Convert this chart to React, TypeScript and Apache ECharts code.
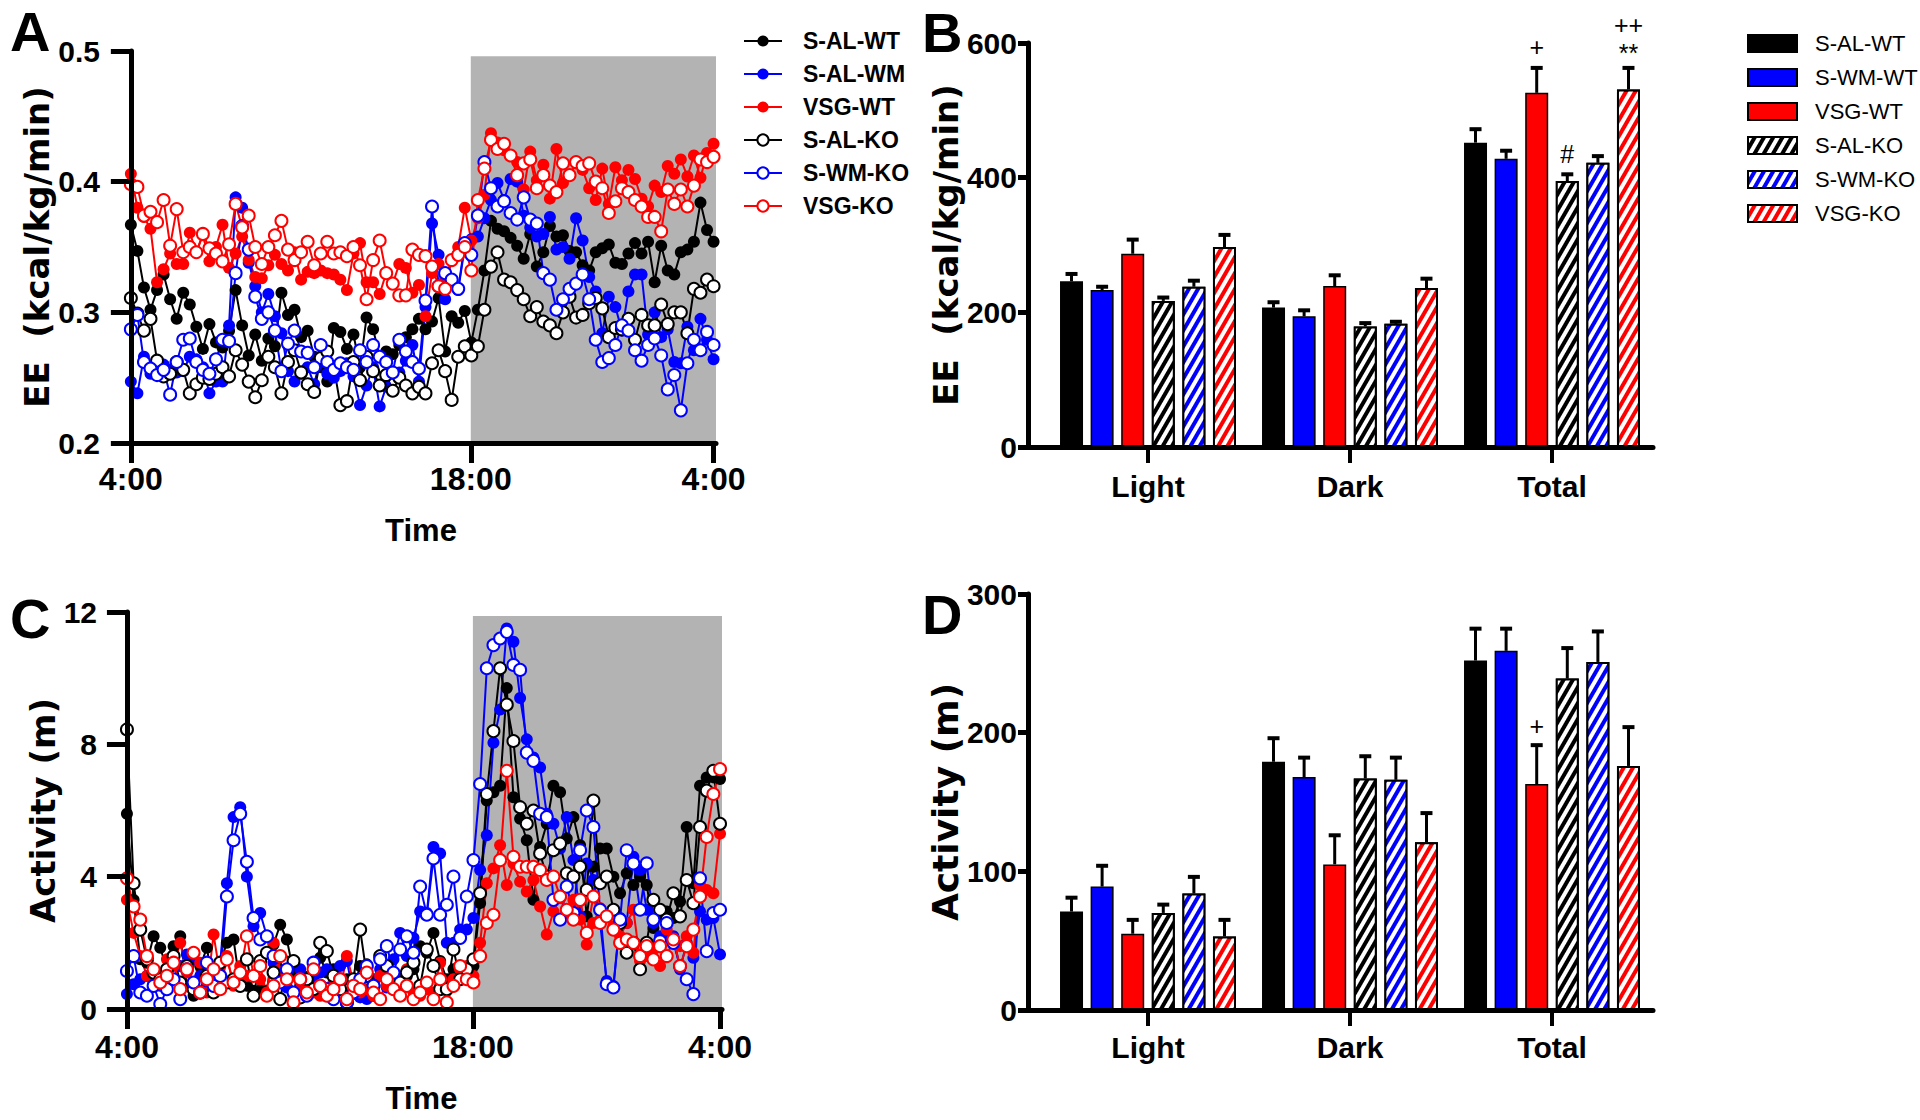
import React, { useEffect, useRef } from "react";
import * as echarts from "echarts";

const ARIAL = "'Liberation Sans', Arial, sans-serif";
const WIDE = "'DejaVu Sans', sans-serif";

const LINE_GROUPS = ["S-AL-WT", "S-AL-WM", "VSG-WT", "S-AL-KO", "S-WM-KO", "VSG-KO"];
const BAR_GROUPS = ["S-AL-WT", "S-WM-WT", "VSG-WT", "S-AL-KO", "S-WM-KO", "VSG-KO"];
const GROUP_COLORS = ["#000000", "#0000ff", "#ff0000", "#000000", "#0000ff", "#ff0000"];
const GROUP_OPEN = [false, false, false, true, true, true];
const PERIODS = ["Light", "Dark", "Total"];
const TIME_TICKS = [0, 14, 24];
const TIME_LABELS = ["4:00", "18:00", "4:00"];
const DARK_START = 14;
const DARK_END = 24.1;

// Panel A: energy expenditure (kcal/kg/min), 90 samples from 4:00 to 4:00
const EE_S_AL_WT = [
  0.367, 0.347, 0.319, 0.302, 0.317, 0.329, 0.31, 0.295, 0.315, 0.306,
  0.289, 0.272, 0.291, 0.277, 0.273, 0.286, 0.317, 0.29, 0.267, 0.283,
  0.263, 0.28, 0.274, 0.315, 0.298, 0.302, 0.281, 0.286, 0.266, 0.258,
  0.247, 0.288, 0.285, 0.272, 0.283, 0.258, 0.296, 0.287, 0.266, 0.27,
  0.268, 0.275, 0.281, 0.287, 0.295, 0.287, 0.293, 0.311, 0.27, 0.297,
  0.292, 0.301, 0.277, 0.302, 0.332, 0.37, 0.364, 0.362, 0.357, 0.351,
  0.341, 0.36, 0.335, 0.346, 0.366, 0.358, 0.359, 0.347, 0.346, 0.336,
  0.332, 0.346, 0.349, 0.352, 0.338, 0.337, 0.345, 0.353, 0.345, 0.354,
  0.323, 0.351, 0.332, 0.329, 0.346, 0.348, 0.354, 0.384, 0.363, 0.354,
];
const EE_S_AL_WM = [
  0.247, 0.238, 0.266, 0.253, 0.26, 0.26, 0.256, 0.254, 0.255, 0.266,
  0.264, 0.258, 0.238, 0.247, 0.247, 0.29, 0.388, 0.38, 0.338, 0.32,
  0.3, 0.314, 0.297, 0.284, 0.255, 0.247, 0.253, 0.258, 0.245, 0.266,
  0.253, 0.25, 0.255, 0.261, 0.251, 0.229, 0.244, 0.258, 0.228, 0.243,
  0.253, 0.254, 0.263, 0.275, 0.247, 0.304, 0.368, 0.344, 0.31, 0.325,
  0.317, 0.35, 0.356, 0.358, 0.372, 0.386, 0.399, 0.386, 0.402, 0.4,
  0.374, 0.365, 0.358, 0.36, 0.373, 0.348, 0.35, 0.341, 0.372, 0.355,
  0.327, 0.316, 0.284, 0.312, 0.304, 0.286, 0.316, 0.329, 0.329, 0.283,
  0.3, 0.281, 0.287, 0.262, 0.261, 0.289, 0.271, 0.295, 0.279, 0.264,
];
const EE_VSG_WT = [
  0.406, 0.38, 0.373, 0.364, 0.323, 0.333, 0.345, 0.337, 0.337, 0.361,
  0.346, 0.359, 0.339, 0.35, 0.367, 0.334, 0.345, 0.358, 0.34, 0.327,
  0.326, 0.336, 0.344, 0.337, 0.332, 0.346, 0.325, 0.331, 0.33, 0.332,
  0.33, 0.329, 0.325, 0.317, 0.345, 0.353, 0.323, 0.323, 0.314, 0.33,
  0.322, 0.337, 0.334, 0.315, 0.321, 0.297, 0.33, 0.337, 0.326, 0.34,
  0.35, 0.38, 0.355, 0.372, 0.39, 0.437, 0.43, 0.424, 0.42, 0.415,
  0.394, 0.423, 0.401, 0.413, 0.387, 0.425, 0.399, 0.405, 0.414, 0.409,
  0.395, 0.386, 0.41, 0.383, 0.411, 0.401, 0.409, 0.402, 0.387, 0.381,
  0.397, 0.392, 0.412, 0.406, 0.417, 0.404, 0.42, 0.403, 0.422, 0.429,
];
const EE_S_AL_KO = [
  0.311, 0.299, 0.286, 0.295, 0.263, 0.251, 0.253, 0.262, 0.256, 0.238,
  0.245, 0.25, 0.249, 0.253, 0.258, 0.251, 0.271, 0.26, 0.247, 0.235,
  0.248, 0.266, 0.258, 0.238, 0.262, 0.271, 0.254, 0.245, 0.239, 0.265,
  0.27, 0.258, 0.229, 0.232, 0.262, 0.248, 0.266, 0.255, 0.244, 0.252,
  0.24, 0.25, 0.244, 0.238, 0.243, 0.238, 0.261, 0.271, 0.255, 0.233,
  0.266, 0.274, 0.267, 0.274, 0.302, 0.335, 0.346, 0.325, 0.323, 0.317,
  0.31, 0.297, 0.304, 0.293, 0.29, 0.284, 0.3, 0.312, 0.296, 0.298,
  0.307, 0.311, 0.303, 0.281, 0.288, 0.287, 0.295, 0.279, 0.298, 0.29,
  0.29, 0.306, 0.291, 0.3, 0.3, 0.284, 0.318, 0.315, 0.325, 0.32,
];
const EE_S_WM_KO = [
  0.287, 0.298, 0.262, 0.257, 0.252, 0.256, 0.237, 0.262, 0.279, 0.28,
  0.262, 0.256, 0.253, 0.264, 0.279, 0.278, 0.33, 0.366, 0.348, 0.312,
  0.295, 0.3, 0.286, 0.255, 0.276, 0.286, 0.27, 0.269, 0.258, 0.275,
  0.262, 0.256, 0.261, 0.258, 0.256, 0.271, 0.262, 0.275, 0.266, 0.262,
  0.254, 0.279, 0.27, 0.262, 0.257, 0.309, 0.381, 0.32, 0.33, 0.325,
  0.318, 0.353, 0.344, 0.374, 0.415, 0.395, 0.381, 0.385, 0.376, 0.371,
  0.388, 0.371, 0.368, 0.33, 0.325, 0.302, 0.31, 0.318, 0.322, 0.329,
  0.31, 0.279, 0.262, 0.265, 0.275, 0.29, 0.286, 0.271, 0.263, 0.275,
  0.28, 0.267, 0.241, 0.252, 0.225, 0.261, 0.279, 0.271, 0.285, 0.275,
];
const EE_VSG_KO = [
  0.398, 0.396, 0.374, 0.377, 0.369, 0.386, 0.351, 0.379, 0.346, 0.35,
  0.346, 0.36, 0.349, 0.345, 0.339, 0.352, 0.383, 0.365, 0.374, 0.35,
  0.337, 0.35, 0.359, 0.37, 0.348, 0.34, 0.346, 0.354, 0.336, 0.345,
  0.354, 0.345, 0.346, 0.343, 0.35, 0.336, 0.31, 0.34, 0.355, 0.33,
  0.322, 0.313, 0.313, 0.348, 0.344, 0.343, 0.335, 0.32, 0.318, 0.34,
  0.344, 0.35, 0.332, 0.386, 0.41, 0.432, 0.425, 0.429, 0.42, 0.405,
  0.414, 0.417, 0.395, 0.405, 0.397, 0.392, 0.414, 0.405, 0.415, 0.412,
  0.414, 0.4, 0.395, 0.376, 0.385, 0.395, 0.392, 0.386, 0.381, 0.373,
  0.373, 0.362, 0.394, 0.383, 0.394, 0.381, 0.397, 0.417, 0.415, 0.419,
];

// Panel C: activity (m), 90 samples from 4:00 to 4:00
const ACT_S_AL_WT = [
  5.9, 3.3, 1.5, 1.4, 2.2, 1.85, 1.2, 1.9, 2.2, 0.7,
  0.4, 1.3, 1.85, 0.6, 1.4, 2.0, 2.1, 0.7, 0.7, 0.55,
  0.55, 0.55, 1.95, 2.55, 2.1, 1.1, 0.7, 0.97, 0.8, 1.55,
  1.1, 1.2, 0.9, 0.9, 0.6, 1.3, 1.35, 0.4, 1.0, 1.2,
  0.9, 0.9, 1.0, 1.2, 1.9, 1.7, 2.3, 1.45, 0.9, 1.2,
  1.2, 1.25, 1.3, 3.2, 6.3, 6.55, 6.75, 9.7, 6.4, 5.75,
  5.1, 3.3, 4.9, 5.6, 6.75, 6.55, 5.15, 5.8, 4.95, 2.8,
  4.3, 4.85, 4.85, 4.0, 3.5, 4.1, 3.75, 4.0, 3.75, 2.45,
  2.9, 2.95, 2.75, 3.25, 5.5, 3.8, 6.75, 7.0, 7.0, 6.95,
];
const ACT_S_AL_WM = [
  0.45, 0.75, 0.9, 1.0, 0.8, 0.7, 1.1, 0.9, 1.3, 1.65,
  1.5, 1.0, 0.6, 1.0, 1.4, 3.8, 5.8, 6.1, 4.0, 2.5,
  2.9, 2.2, 1.4, 0.95, 0.65, 0.4, 1.2, 0.8, 0.9, 1.1,
  1.2, 0.7, 1.3, 1.45, 0.45, 0.35, 0.3, 0.9, 1.2, 0.65,
  1.5, 2.3, 1.6, 2.15, 2.95, 2.9, 4.9, 4.7, 2.0, 2.0,
  2.4, 2.4, 2.75, 4.2, 5.25, 8.05, 9.05, 11.5, 11.1, 9.4,
  8.15, 7.6, 7.3, 5.9, 5.6, 4.85, 5.8, 4.5, 2.8, 4.4,
  3.9, 2.6, 0.85, 0.7, 2.75, 2.6, 4.6, 4.2, 3.0, 2.6,
  2.2, 2.2, 2.2, 1.2, 2.0, 1.55, 2.95, 2.7, 2.75, 1.65,
];
const ACT_VSG_WT = [
  3.3, 2.3, 1.6, 1.0, 1.2, 0.9, 1.5, 1.3, 2.0, 1.1,
  0.8, 1.4, 0.5, 2.25, 1.0, 1.6, 0.7, 1.3, 1.0, 0.4,
  0.9, 0.5, 2.0, 1.2, 1.4, 0.3, 0.6, 0.8, 0.5, 0.4,
  0.5, 0.8, 0.6, 1.6, 0.8, 0.5, 0.6, 0.4, 1.0, 0.7,
  0.6, 0.9, 1.2, 0.5, 0.4, 0.6, 0.5, 1.4, 0.6, 0.9,
  1.2, 1.3, 1.0, 2.0, 3.8, 4.25, 4.95, 3.75, 4.4, 3.85,
  3.55, 3.9, 3.1, 2.25, 2.95, 3.35, 2.85, 3.3, 2.7, 1.95,
  2.6, 3.05, 2.8, 2.5, 2.2, 2.6, 3.0, 1.45, 1.6, 1.8,
  1.3, 2.4, 2.1, 1.9, 2.2, 1.7, 3.75, 3.6, 3.5, 5.3,
];
const ACT_S_AL_KO = [
  8.45, 3.8, 2.4, 1.5, 1.1, 0.9, 1.2, 1.6, 0.8, 1.3,
  0.6, 0.5, 1.0, 0.5, 1.4, 0.8, 0.9, 0.7, 1.5, 0.4,
  1.45, 1.7, 1.1, 0.3, 1.4, 1.45, 0.35, 0.9, 0.6, 2.0,
  1.75, 1.0, 0.6, 0.2, 0.9, 2.4, 1.0, 0.7, 1.6, 1.3,
  0.9, 0.8, 1.1, 1.4, 0.7, 1.8, 1.3, 0.6, 0.6, 1.8,
  0.9, 1.2, 1.5, 3.5, 6.5, 8.4, 10.3, 9.2, 8.1, 6.1,
  5.6, 6.0, 4.7, 4.0, 4.8, 5.0, 4.1, 4.0, 4.3, 3.6,
  6.3, 3.8, 4.0, 3.0, 2.6, 1.7, 2.0, 1.2, 2.0, 3.3,
  3.0, 2.7, 3.5, 2.8, 3.9, 3.2, 5.5, 6.6, 7.2, 5.6,
];
const ACT_S_WM_KO = [
  1.15, 1.6, 0.5, 0.4, 0.7, 0.15, 0.6, 0.9, 0.3, 1.2,
  0.8, 0.5, 1.4, 0.7, 1.0, 3.4, 5.1, 5.9, 4.45, 2.75,
  2.1, 2.2, 1.6, 0.8, 1.2, 0.5, 0.9, 0.4, 1.4, 0.7,
  0.6, 0.3, 0.9, 0.2, 0.5, 0.9, 1.3, 0.7, 1.5, 1.9,
  1.1, 1.8, 2.2, 1.7, 3.7, 2.85, 4.55, 2.85, 3.15, 4.0,
  2.15, 3.4, 4.5, 6.8, 10.3, 11.0, 11.2, 11.4, 10.4, 10.25,
  7.75, 7.5, 5.9, 5.8, 3.3, 2.7, 3.7, 2.9, 4.8, 6.0,
  5.5, 3.0, 0.75, 0.65, 2.7, 4.8, 4.4, 3.0, 4.4, 2.7,
  2.05, 2.6, 2.0, 1.3, 0.9, 0.45, 3.95, 1.75, 2.9, 3.0,
];
const ACT_VSG_KO = [
  3.95, 3.1, 2.7, 1.6, 1.2, 0.8, 1.0, 1.4, 0.6, 1.2,
  1.7, 0.5, 0.9, 1.2, 0.6, 1.5, 0.8, 1.1, 2.2, 1.0,
  1.3, 0.4, 0.7, 1.6, 0.9, 0.2, 0.9, 0.5, 1.2, 0.7,
  0.4, 0.6, 0.9, 0.3, 0.7, 0.6, 1.1, 0.5, 0.3, 0.9,
  0.6, 0.4, 0.7, 0.3, 0.5, 0.8, 0.3, 0.9, 0.2, 0.7,
  1.3, 0.9, 0.8, 1.6, 2.6, 2.85, 4.5, 7.2, 4.6, 4.3,
  4.3, 4.3, 4.2, 3.9, 4.0, 3.4, 3.0, 2.7, 3.3, 2.3,
  3.4, 2.6, 2.8, 2.4, 2.0, 2.1, 2.0, 1.6, 1.9, 1.5,
  1.9, 1.6, 2.1, 1.3, 1.9, 2.4, 3.4, 5.2, 6.5, 7.25,
];

// Panel B: EE (kcal/kg/min) means and SEM per period [Light, Dark, Total]
const EE_BAR_MEAN = [
  [246, 207, 452],
  [233, 194, 428],
  [287, 239, 526],
  [217, 179, 395],
  [238, 183, 422],
  [297, 236, 531],
];
const EE_BAR_SEM = [
  [11, 8, 20],
  [5, 9, 12],
  [21, 16, 37],
  [5, 5, 10],
  [9, 3, 10],
  [18, 14, 32],
];
// Panel D: activity (m)
const ACT_BAR_MEAN = [
  [71, 179, 252],
  [89, 168, 259],
  [55, 105, 163],
  [70, 167, 239],
  [84, 166, 251],
  [53, 121, 176],
];
const ACT_BAR_SEM = [
  [10, 17, 23],
  [15, 14, 16],
  [10, 21, 28],
  [6, 16, 22],
  [12, 16, 22],
  [12, 21, 28],
];
// significance marks: [period index, group index, text, px above error cap]
const EE_MARKS: [number, number, string, number][] = [
  [2, 2, "+", 21],
  [2, 3, "#", 20],
  [2, 5, "**", 15],
  [2, 5, "++", 43],
];
const ACT_MARKS: [number, number, string, number][] = [[2, 2, "+", 19]];

const BAR_WIDTH = 23;
const BAR_GAP = 0.33;
const BAR_PITCH = BAR_WIDTH * (1 + BAR_GAP);

const EE_LINES = [EE_S_AL_WT, EE_S_AL_WM, EE_VSG_WT, EE_S_AL_KO, EE_S_WM_KO, EE_VSG_KO];
const ACT_LINES = [ACT_S_AL_WT, ACT_S_AL_WM, ACT_VSG_WT, ACT_S_AL_KO, ACT_S_WM_KO, ACT_VSG_KO];

const hoursOf = (n: number, i: number) => (i * 24) / (n - 1);

function buildOption() {
  const axisLine = (w: number) => ({ show: true, lineStyle: { color: "#000", width: w } });
  const tickLabel = (size: number) => ({
    fontFamily: ARIAL,
    fontWeight: "bold",
    fontSize: size,
    color: "#000",
  });
  const yName = (size: number) => ({
    fontFamily: WIDE,
    fontWeight: "bold",
    fontSize: size,
    color: "#000",
  });

  const timeXAxis = (grid: number, min: number, max: number, margin: number, nameGap: number) => ({
    type: "value",
    gridIndex: grid,
    min,
    max,
    z: 5,
    axisLine: axisLine(5),
    axisTick: {
      show: true,
      customValues: TIME_TICKS,
      length: 20,
      lineStyle: { color: "#000", width: 5 },
    },
    axisLabel: {
      customValues: TIME_TICKS,
      margin,
      formatter: (v: number) => {
        const k = TIME_TICKS.indexOf(Math.round(v));
        return k >= 0 ? TIME_LABELS[k] : "";
      },
      ...tickLabel(32),
    },
    splitLine: { show: false },
    name: "Time",
    nameLocation: "middle",
    nameGap,
    nameTextStyle: tickLabel(31),
  });

  const catXAxis = (grid: number, margin: number) => ({
    type: "category",
    gridIndex: grid,
    data: PERIODS,
    z: 5,
    axisLine: { show: false },
    axisTick: { show: true, alignWithLabel: true, length: 16, lineStyle: { color: "#000", width: 4 } },
    axisLabel: { margin, ...tickLabel(30) },
    splitLine: { show: false },
  });

  const baseLineX = (grid: number) => ({
    type: "value",
    gridIndex: grid,
    min: 0,
    max: 1,
    z: 5,
    axisLine: axisLine(5),
    axisTick: { show: false },
    axisLabel: { show: false },
    splitLine: { show: false },
  });

  const valueYAxis = (
    grid: number,
    min: number,
    max: number,
    interval: number,
    name: string,
    nameGap: number,
    nameSize: number,
    tickLen: number,
    margin: number,
    offset: number,
    labelSize: number
  ) => ({
    type: "value",
    gridIndex: grid,
    min,
    max,
    interval,
    offset,
    z: 5,
    axisLine: axisLine(5),
    axisTick: { show: true, length: tickLen, lineStyle: { color: "#000", width: 5 } },
    axisLabel: { margin, ...tickLabel(labelSize) },
    splitLine: { show: false },
    name,
    nameLocation: "middle",
    nameGap,
    nameRotate: 90,
    nameTextStyle: yName(nameSize),
  });

  const hiddenY = (grid: number) => ({ type: "value", gridIndex: grid, show: false, min: 0, max: 1 });

  const grids = [
    { left: 126, top: 51, width: 590, height: 392 },
    { left: 1047, top: 43, width: 606, height: 404 },
    { left: 1026, top: 43, width: 627, height: 404 },
    { left: 121, top: 612, width: 601, height: 397 },
    { left: 1047, top: 594, width: 606, height: 416 },
    { left: 1026, top: 594, width: 627, height: 416 },
  ].map((g) => ({ ...g, containLabel: false, outerBoundsMode: "none" }));

  const xAxis = [
    timeXAxis(0, -0.2, DARK_END, 20, 72),
    catXAxis(1, 24),
    baseLineX(2),
    timeXAxis(3, -0.24, 24.08, 22, 74),
    catXAxis(4, 22),
    baseLineX(5),
  ];
  const yAxis = [
    valueYAxis(0, 0.2, 0.5, 0.1, "EE  (kcal/kg/min)", 64, 34, 20, 26, 0, 30),
    valueYAxis(1, 0, 600, 200, "EE  (kcal/kg/min)", 36, 34, 10, 11, 19, 30),
    hiddenY(2),
    valueYAxis(3, 0, 12, 4, "Activity (m)", 54, 34, 20, 24, 0, 30),
    valueYAxis(4, 0, 300, 100, "Activity (m)", 24, 36, 10, 11, 19, 30),
    hiddenY(5),
  ];

  const series: any[] = [];

  // dark-phase shading hosts
  const shade = (xi: number, yTop: number, yBottom: number, xMax: number) => ({
    type: "line",
    name: "dark-" + xi,
    xAxisIndex: xi,
    yAxisIndex: xi,
    data: [],
    z: 1,
    silent: true,
    markArea: {
      silent: true,
      itemStyle: { color: "#b3b3b3" },
      data: [[{ xAxis: DARK_START, yAxis: yBottom }, { xAxis: xMax, yAxis: yTop }]],
    },
  });
  series.push(shade(0, 0.496, 0.2, DARK_END));
  series.push(shade(3, 11.88, 0, 24.08));

  const lineSeries = (xi: number, arrs: number[][]) =>
    arrs.map((arr, g) => ({
      type: "line",
      name: LINE_GROUPS[g],
      xAxisIndex: xi,
      yAxisIndex: xi,
      data: arr.map((v, i) => [hoursOf(arr.length, i), v]),
      symbol: GROUP_OPEN[g] ? "emptyCircle" : "circle",
      symbolSize: 12,
      showSymbol: true,
      lineStyle: { color: GROUP_COLORS[g], width: 2 },
      itemStyle: { color: GROUP_COLORS[g], borderColor: GROUP_COLORS[g], borderWidth: GROUP_OPEN[g] ? 2.5 : 0 },
      emphasis: { disabled: true },
      z: 3,
    }));
  series.push(...lineSeries(0, EE_LINES));
  series.push(...lineSeries(3, ACT_LINES));

  const hatch = (c: string) => ({
    color: c,
    borderColor: "#000",
    borderWidth: 2,
    decal: {
      symbol: "rect",
      symbolSize: 1,
      dashArrayX: [1, 0],
      dashArrayY: [4, 4],
      rotation: -Math.PI / 3,
      color: "#ffffff",
    },
  });
  const solid = (c: string) => ({ color: c, borderColor: "#000", borderWidth: 1.5 });

  const barSeries = (xi: number, means: number[][]) =>
    means.map((m, g) => ({
      type: "bar",
      name: "B:" + BAR_GROUPS[g],
      xAxisIndex: xi,
      yAxisIndex: xi,
      data: m,
      barWidth: BAR_WIDTH,
      barGap: BAR_GAP * 100 + "%",
      itemStyle: GROUP_OPEN[g] ? hatch(GROUP_COLORS[g]) : solid(GROUP_COLORS[g]),
      emphasis: { disabled: true },
      z: 2,
    }));
  series.push(...barSeries(1, EE_BAR_MEAN));
  series.push(...barSeries(4, ACT_BAR_MEAN));

  const errSeries = (xi: number, means: number[][], sems: number[][]) => ({
    type: "custom",
    name: "err-" + xi,
    xAxisIndex: xi,
    yAxisIndex: xi,
    z: 4,
    silent: true,
    encode: { x: 0, y: 2 },
    data: means.flatMap((m, g) => m.map((v, p) => [p, g, v, sems[g][p]])),
    renderItem: (_params: any, api: any) => {
      const p = api.value(0);
      const g = api.value(1);
      const mean = api.value(2);
      const err = api.value(3);
      const base = api.coord([p, mean]);
      const top = api.coord([p, mean + err]);
      const x = base[0] + (g - 2.5) * BAR_PITCH;
      return {
        type: "group",
        children: [
          { type: "line", shape: { x1: x, y1: base[1], x2: x, y2: top[1] }, style: { stroke: "#000", lineWidth: 3 } },
          { type: "line", shape: { x1: x - 6, y1: top[1], x2: x + 6, y2: top[1] }, style: { stroke: "#000", lineWidth: 4 } },
        ],
      };
    },
  });
  series.push(errSeries(1, EE_BAR_MEAN, EE_BAR_SEM));
  series.push(errSeries(4, ACT_BAR_MEAN, ACT_BAR_SEM));

  const markSeries = (xi: number, means: number[][], sems: number[][], marks: [number, number, string, number][]) => ({
    type: "custom",
    name: "marks-" + xi,
    xAxisIndex: xi,
    yAxisIndex: xi,
    z: 4,
    silent: true,
    encode: { x: 0, y: 2 },
    data: marks.map(([p, g, _t, off]) => [p, g, means[g][p] + sems[g][p], off]),
    renderItem: (params: any, api: any) => {
      const p = api.value(0);
      const g = api.value(1);
      const top = api.coord([p, api.value(2)]);
      const x = top[0] + (g - 2.5) * BAR_PITCH;
      const text = marks[params.dataIndex][2];
      return {
        type: "text",
        x,
        y: top[1] - api.value(3),
        style: {
          text,
          fontFamily: ARIAL,
          fontSize: 25,
          lineHeight: 20,
          fill: "#000",
          align: "center",
          verticalAlign: "middle",
        },
      };
    },
  });
  series.push(markSeries(1, EE_BAR_MEAN, EE_BAR_SEM, EE_MARKS));
  series.push(markSeries(4, ACT_BAR_MEAN, ACT_BAR_SEM, ACT_MARKS));

  const legend = [
    {
      data: LINE_GROUPS,
      orient: "vertical",
      left: 738,
      top: 22,
      itemWidth: 38,
      itemHeight: 14,
      itemGap: 5,
      selectedMode: false,
      textStyle: {
        fontFamily: ARIAL,
        fontWeight: "bold",
        fontSize: 23,
        lineHeight: 28,
        color: "#000",
        padding: [0, 0, 0, 16],
      },
    },
    {
      data: BAR_GROUPS.map((g) => "B:" + g),
      formatter: (n: string) => n.slice(2),
      orient: "vertical",
      left: 1742,
      top: 26,
      icon: "rect",
      itemWidth: 49,
      itemHeight: 17,
      itemGap: 9,
      selectedMode: false,
      textStyle: {
        fontFamily: ARIAL,
        fontSize: 22,
        lineHeight: 25,
        color: "#000",
        padding: [0, 0, 0, 13],
      },
    },
  ];

  const letter = (t: string, x: number, y: number) => ({
    type: "text",
    left: x,
    top: y,
    style: { text: t, fontFamily: ARIAL, fontWeight: "bold", fontSize: 56, fill: "#000" },
  });

  return {
    animation: false,
    backgroundColor: "#ffffff",
    grid: grids,
    xAxis,
    yAxis,
    legend,
    series,
    graphic: [letter("A", 10, 3), letter("B", 922, 4), letter("C", 10, 590), letter("D", 922, 586)],
  };
}

export default function App() {
  const ref = useRef<HTMLDivElement | null>(null);
  useEffect(() => {
    if (!ref.current) return;
    const chart = echarts.init(ref.current, null, { renderer: "svg" });
    chart.setOption(buildOption() as any);
    return () => chart.dispose();
  }, []);
  return (
    <div
      ref={ref}
      style={{ position: "fixed", left: 0, top: 0, width: 1920, height: 1120, background: "#fff" }}
    />
  );
}
